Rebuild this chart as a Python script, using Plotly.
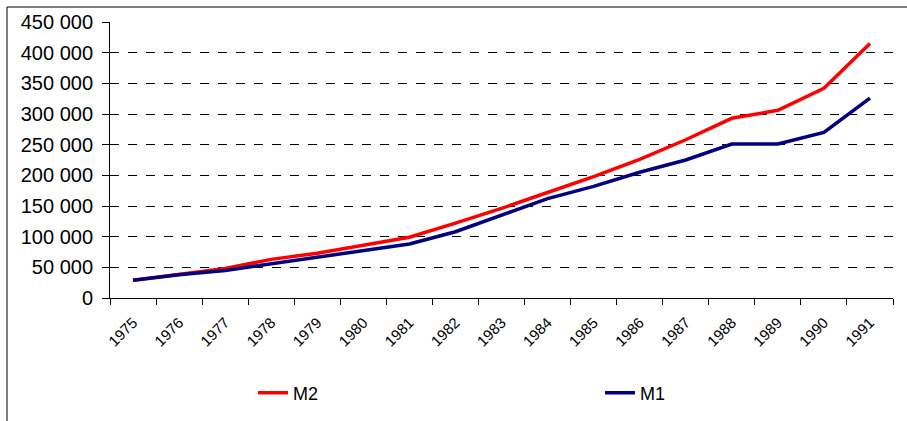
import plotly.graph_objects as go

years = [str(y) for y in range(1975, 1992)]
m2 = [29000, 38000, 48000, 63000, 73000, 86000, 99000, 122000, 146000, 172000,
      198000, 226000, 258000, 293000, 306000, 342000, 415000]
m1 = [29000, 38000, 45000, 56000, 66000, 77000, 88000, 108000, 135000, 162000,
      182000, 205000, 225000, 251000, 251000, 270000, 326000]

FONT = "Liberation Sans, Arial, sans-serif"

fig = go.Figure()
fig.add_trace(go.Scatter(x=years, y=m2, name="M2", mode="lines",
                         line=dict(color="#FF0000", width=3.5), legend="legend"))
fig.add_trace(go.Scatter(x=years, y=m1, name="M1", mode="lines",
                         line=dict(color="#000080", width=3.5), legend="legend2"))

leg_common = dict(orientation="h", xanchor="left", yanchor="middle",
                  font=dict(size=18, family=FONT), bgcolor="rgba(0,0,0,0)")

fig.update_layout(
    width=907, height=421,
    margin=dict(l=110, r=14, t=22, b=123, autoexpand=False),
    paper_bgcolor="white", plot_bgcolor="white",
    separators=", ",
    font=dict(family=FONT, color="black"),
    showlegend=True,
    legend=dict(x=(253 - 110) / 783, y=(298 - 393) / 276, **leg_common),
    legend2=dict(x=(600 - 110) / 783, y=(298 - 393) / 276, **leg_common),
    xaxis=dict(type="category", range=[-0.5, 16.5], tickson="boundaries",
               ticks="outside", ticklen=6, tickcolor="black", showline=True,
               linecolor="black", linewidth=1, showgrid=False, tickangle=-45,
               tickfont=dict(size=15, family=FONT), fixedrange=True,
               ticklabelstandoff=9, automargin=False),
    yaxis=dict(range=[0, 450000], dtick=50000, tickformat=",d",
               ticks="outside", ticklen=7, tickcolor="black", showline=True,
               linecolor="black", linewidth=1, showgrid=True,
               gridcolor="black", griddash="dash", gridwidth=1,
               zeroline=False, tickfont=dict(size=20, family=FONT),
               ticklabelstandoff=5, fixedrange=True, automargin=False),
)

# outer chart border (left and top edges visible)
fig.add_shape(type="line", xref="paper", yref="paper",
              x0=-103/783, x1=-103/783, y0=(298-7)/276, y1=-0.6,
              line=dict(color="black", width=1))
fig.add_shape(type="line", xref="paper", yref="paper",
              x0=-103/783, x1=1.1, y0=(298-7)/276, y1=(298-7)/276,
              line=dict(color="black", width=1))

fig.write_html("out.html", config={"displayModeBar": False},
               post_script="document.body.style.margin='0';document.body.style.overflow='hidden';")
